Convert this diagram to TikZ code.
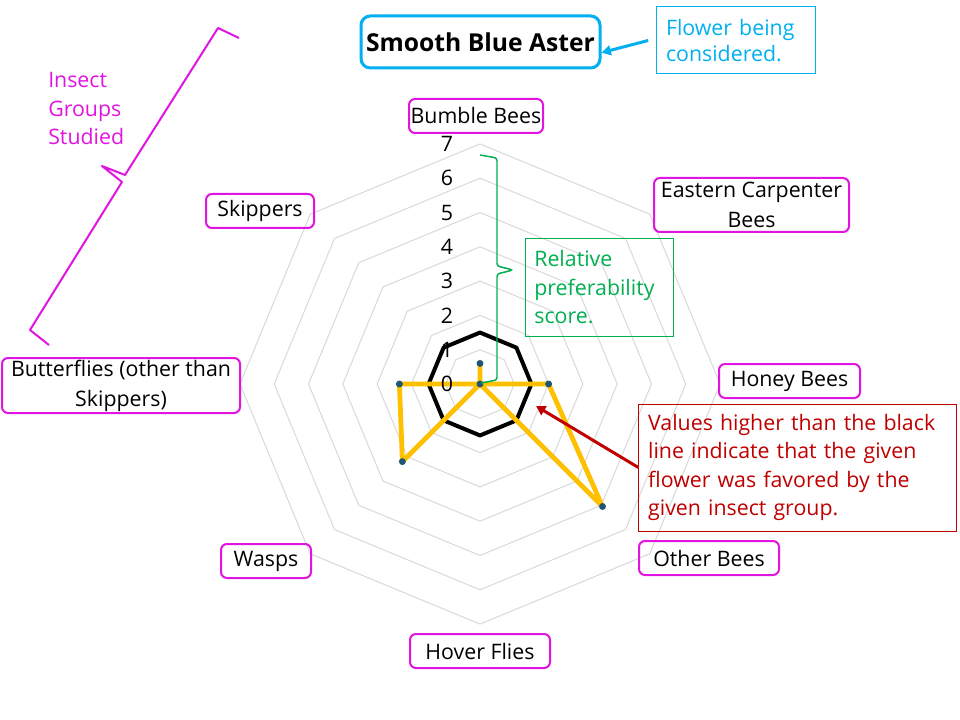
\documentclass[tikz,border=0pt]{standalone}
\usepackage{fontspec}
\setmainfont{Open Sans}
\usetikzlibrary{arrows.meta}

\definecolor{asterblue}{RGB}{0,176,240}
\definecolor{groupmagenta}{RGB}{226,20,226}
\definecolor{scoreyellow}{RGB}{255,192,0}
\definecolor{dotteal}{RGB}{31,86,115}
\definecolor{notered}{RGB}{192,0,0}
\definecolor{scoregreen}{RGB}{0,176,80}
\definecolor{gridgray}{RGB}{217,217,217}

\begin{document}
\begin{tikzpicture}[x=0.75pt,y=-0.75pt,
    insect/.style={draw=groupmagenta,line width=1.5pt,rounded corners=4.5pt,
        align=center,inner sep=1pt,minimum height=25.5pt,
        font=\fontsize{16}{22.5}\selectfont},
    callout/.style={draw,line width=0.75pt,align=left,inner xsep=7pt,
        font=\fontsize{16}{21.4}\selectfont},
    gridring/.style={draw=gridgray,line width=0.75pt},
    evenring/.style={draw=black,line width=3pt,line join=round},
    scoreline/.style={draw=scoreyellow,line width=3.6pt,line join=round},
    axisnum/.style={inner sep=0pt,font=\fontsize{16}{19}\selectfont}]

    \fill[white] (0,0) rectangle (960,720);
    \useasboundingbox (0,0) rectangle (960,720);

    \begin{scope}[shift={(480,384)},x=25.725pt,y=25.725pt]
        \foreach \r in {1,...,7}
            \draw[gridring] (90:\r) \foreach \a in {135,180,...,405} {-- (\a:\r)} -- cycle;
        \draw[evenring] (90:1.5) \foreach \a in {135,180,...,405} {-- (\a:1.5)} -- cycle;
        \draw[scoreline] (90:0.6) -- (0,0) -- (0:2) -- (-45:5.05) -- (0,0)
            -- (-135:3.2) -- (180:2.35) -- (0,0) -- cycle;
        \foreach \a/\v in {90/0.6,0/2,-45/5.05,-135/3.2,180/2.35,0/0}
            \fill[dotteal] (\a:\v) circle (2.6pt);
        \foreach \k in {0,...,7}
            \node[axisnum] (num\k) at (-0.96,\k) {\k};
    \end{scope}

    \node[insect,minimum width=100.5pt] (bumble) at (476,116) {Bumble Bees};
    \node[insect,minimum width=146.25pt,minimum height=40.5pt] (carpenter) at (751.5,205) {Eastern Carpenter\\Bees};
    \node[insect,minimum width=105.75pt] (honey) at (789.5,381) {Honey Bees};
    \node[insect,minimum width=105pt] (otherbees) at (709,558) {Other Bees};
    \node[insect,minimum width=105pt] (hover) at (480,651) {Hover Flies};
    \node[insect,minimum width=67.5pt] (wasps) at (266,561) {Wasps};
    \node[insect,minimum width=178.5pt,minimum height=41.25pt] (butterflies) at (121,385.5) {Butterflies (other than\\Skippers)};
    \node[insect,minimum width=81pt] (skippers) at (260,211) {Skippers};

    \node[draw=asterblue,line width=2.25pt,rounded corners=7pt,minimum width=179.25pt,
        minimum height=39pt,inner sep=1pt,font=\fontsize{18.5}{22}\selectfont\bfseries] (title) at (480.5,42) {Smooth Blue Aster};
    \node[callout,draw=asterblue,text=asterblue,text width=105pt,minimum height=50.25pt,
        font=\fontsize{16}{20}\selectfont] (flower) at (736,40.5) {Flower being\\considered.};
    \node[callout,draw=scoregreen,text=scoregreen,text width=97pt,minimum height=72.75pt] (relscore) at (599,287.5) {Relative\\preferability\\score.};
    \node[callout,draw=notered,text=notered,text width=224pt,minimum height=95.25pt] (note) at (797.5,467.5) {Values higher than the black\\line indicate that the given\\flower was favored by the\\given insect group.};
    \node[anchor=north west,inner sep=0pt,align=left,text=groupmagenta,
        font=\fontsize{16}{21.4}\selectfont] (groups) at (48,72) {Insect\\Groups\\Studied};

    \coordinate (evenline) at (536,406);
    \draw[asterblue,line width=2.25pt,-{Triangle[length=7pt,width=7.5pt]}] ([xshift=-6pt]flower.west) -- ([yshift=-8pt]title.east);
    \draw[notered,line width=2.25pt,-{Triangle[length=7pt,width=7.5pt]}] (note.west) -- (evenline);

    \draw[scoregreen,line width=1.1pt,rounded corners=2pt] (480,155) -- (497,158) -- (497,266)
        -- (513,270) -- (497,274) -- (497,380) -- (481,383);
    \draw[groupmagenta,line width=1.5pt,line join=round] (239,38) -- (218,28) -- (125,175)
        -- (102,166) -- (122,182) -- (30,330) -- (49,345);
\end{tikzpicture}
\end{document}
